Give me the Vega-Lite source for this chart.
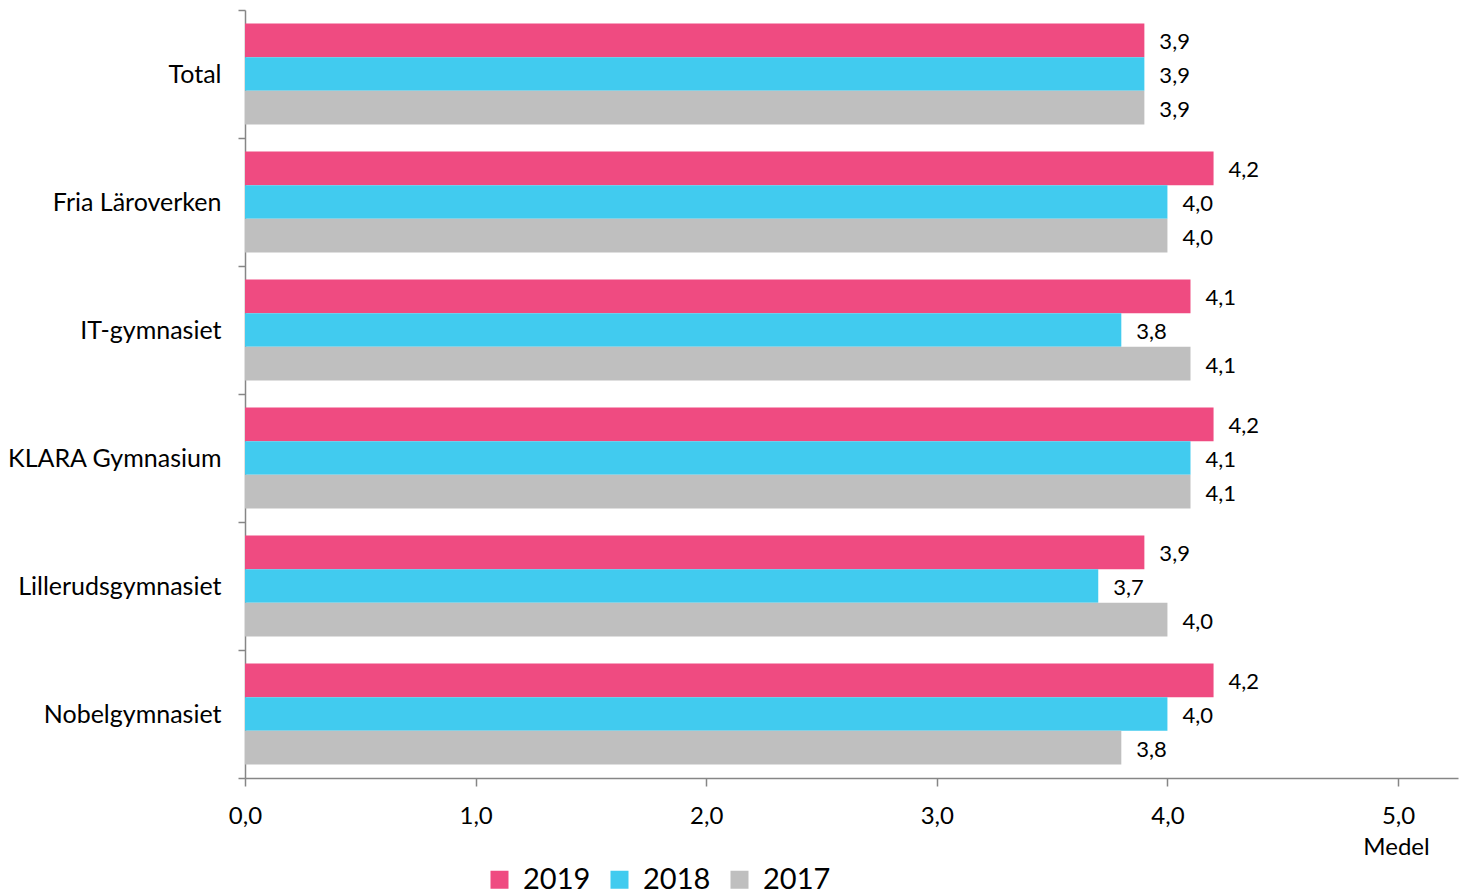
{
  "$schema": "https://vega.github.io/schema/vega-lite/v6.json",
  "width": 1213,
  "height": 768,
  "autosize": {"type": "none"},
  "padding": {"left": 245, "top": 10, "right": 1, "bottom": 117},
  "background": "white",
  "config": {
    "view": {"stroke": null},
    "font": "Lato",
    "locale": {"number": {"decimal": ",", "thousands": " ", "grouping": [3], "currency": ["", " kr"]}}
  },
  "data": {
    "values": [
      {"skola": "Total", "ar": "2019", "medel": 3.9},
      {"skola": "Total", "ar": "2018", "medel": 3.9},
      {"skola": "Total", "ar": "2017", "medel": 3.9},
      {"skola": "Fria Läroverken", "ar": "2019", "medel": 4.2},
      {"skola": "Fria Läroverken", "ar": "2018", "medel": 4.0},
      {"skola": "Fria Läroverken", "ar": "2017", "medel": 4.0},
      {"skola": "IT-gymnasiet", "ar": "2019", "medel": 4.1},
      {"skola": "IT-gymnasiet", "ar": "2018", "medel": 3.8},
      {"skola": "IT-gymnasiet", "ar": "2017", "medel": 4.1},
      {"skola": "KLARA Gymnasium", "ar": "2019", "medel": 4.2},
      {"skola": "KLARA Gymnasium", "ar": "2018", "medel": 4.1},
      {"skola": "KLARA Gymnasium", "ar": "2017", "medel": 4.1},
      {"skola": "Lillerudsgymnasiet", "ar": "2019", "medel": 3.9},
      {"skola": "Lillerudsgymnasiet", "ar": "2018", "medel": 3.7},
      {"skola": "Lillerudsgymnasiet", "ar": "2017", "medel": 4.0},
      {"skola": "Nobelgymnasiet", "ar": "2019", "medel": 4.2},
      {"skola": "Nobelgymnasiet", "ar": "2018", "medel": 4.0},
      {"skola": "Nobelgymnasiet", "ar": "2017", "medel": 3.8}
    ]
  },
  "encoding": {
    "y": {
      "field": "skola", "type": "nominal", "sort": null,
      "scale": {"paddingInner": 0, "paddingOuter": 0},
      "axis": {
        "title": null, "tickBand": "extent", "tickSize": 7, "tickColor": "#868686", "tickWidth": 1.5,
        "domainColor": "#868686", "domainWidth": 1.5,
        "labelFontSize": 25, "labelColor": "#000000", "labelPadding": 17, "labelLimit": 300
      }
    },
    "yOffset": {
      "field": "ar", "type": "nominal", "sort": ["2019", "2018", "2017"],
      "scale": {"paddingInner": 0, "paddingOuter": 0.4}
    },
    "x": {
      "field": "medel", "type": "quantitative",
      "scale": {"domain": [0, 5.26], "nice": false, "zero": true},
      "axis": {
        "values": [0, 1, 2, 3, 4, 5], "format": ".1f", "grid": false, "labelFlush": false,
        "tickSize": 8, "tickColor": "#868686", "tickWidth": 1.5,
        "domainColor": "#868686", "domainWidth": 1.5,
        "labelFontSize": 24, "labelColor": "#000000", "labelPadding": 18,
        "title": "Medel", "titleFontSize": 24, "titleFontWeight": "normal", "titleColor": "#000000",
        "titleX": 1151, "titleY": 69, "titleAlign": "center", "titleBaseline": "middle"
      }
    }
  },
  "layer": [
    {
      "mark": {"type": "bar"},
      "encoding": {
        "color": {
          "field": "ar", "type": "nominal", "sort": ["2019", "2018", "2017"],
          "scale": {"domain": ["2019", "2018", "2017"], "range": ["#EF4B81", "#41CBEF", "#BFBFBF"]},
          "legend": {
            "title": null, "orient": "none", "direction": "horizontal",
            "legendX": 240, "legendY": 855,
            "symbolType": "square", "symbolSize": 324, "symbolStrokeWidth": 0,
            "labelFontSize": 29, "labelColor": "#000000", "labelOffset": 9, "columnPadding": 14
          }
        }
      }
    },
    {
      "mark": {"type": "text", "align": "left", "baseline": "middle", "dx": 15, "dy": 2, "fontSize": 22, "color": "#000000"},
      "encoding": {
        "text": {"field": "medel", "type": "quantitative", "format": ".1f"}
      }
    }
  ]
}
